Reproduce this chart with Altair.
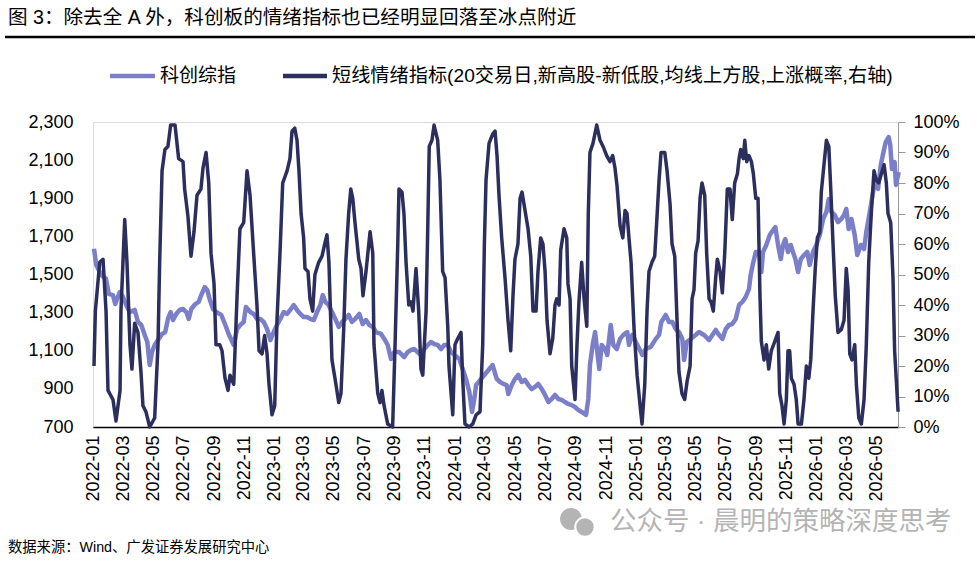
import altair as alt
import pandas as pd

# ---------------- data (months since 2022-01-01, values) ----------------
idx_month = [0.00, 0.15, 0.48, 0.80, 0.98, 1.26, 1.41, 1.71, 1.93, 2.14, 2.37, 2.70, 2.92, 3.14, 3.37, 3.54, 3.70, 3.85,
             4.03, 4.25, 4.52, 4.73, 4.91, 5.09, 5.25, 5.46, 5.69, 5.91, 6.13, 6.29, 6.46, 6.73, 6.95, 7.12, 7.35, 7.52,
             7.68, 7.90, 8.12, 8.45, 8.72, 8.94, 9.28, 9.50, 9.71, 9.94, 10.09, 10.38, 10.60, 10.82, 11.04, 11.27, 11.49,
             11.71, 11.93, 12.15, 12.37, 12.60, 12.82, 13.03, 13.26, 13.48, 13.70, 13.92, 14.14, 14.36, 14.59, 14.81,
             15.03, 15.19, 15.36, 15.58, 15.80, 16.02, 16.25, 16.47, 16.69, 16.91, 17.13, 17.35, 17.62, 17.84, 18.06,
             18.28, 18.51, 18.73, 19.06, 19.28, 19.50, 19.72, 19.94, 20.27, 20.60, 20.83, 21.05, 21.27, 21.49, 21.71,
             21.93, 22.16, 22.38, 22.60, 22.82, 23.04, 23.26, 23.49, 23.71, 23.92, 24.26, 24.48, 24.70, 24.92, 25.10,
             25.25, 25.37, 25.70, 25.92, 26.25, 26.47, 26.74, 26.96, 27.18, 27.40, 27.51, 27.74, 27.95, 28.17, 28.40,
             28.62, 28.84, 29.06, 29.28, 29.50, 29.73, 29.95, 30.17, 30.39, 30.61, 30.83, 31.06, 31.27, 31.49, 31.72,
             31.94, 32.16, 32.38, 32.67, 32.82, 32.93, 33.11, 33.27, 33.42, 33.55, 33.71, 33.93, 34.08, 34.31, 34.48,
             34.71, 34.93, 35.15, 35.41, 35.52, 35.74, 36.08, 36.41, 36.63, 36.97, 37.30, 37.52, 37.67, 37.96, 38.18,
             38.40, 38.62, 38.84, 39.06, 39.18, 39.36, 39.62, 39.95, 40.17, 40.50, 40.84, 41.06, 41.28, 41.50, 41.72,
             41.95, 42.16, 42.38, 42.61, 42.83, 43.05, 43.27, 43.49, 43.60, 43.78, 43.94, 44.16, 44.31, 44.42, 44.64,
             44.87, 45.09, 45.24, 45.42, 45.60, 45.75, 45.90, 46.08, 46.26, 46.41, 46.57, 46.75, 46.93, 47.14, 47.36,
             47.52, 47.74, 47.96, 48.19, 48.41, 48.63, 48.79, 48.96, 49.18, 49.40, 49.62, 49.80, 49.95, 50.11, 50.29,
             50.51, 50.68, 50.91, 51.13, 51.28, 51.51, 51.73, 51.88, 52.06, 52.24, 52.42, 52.57, 52.76, 52.87, 52.98,
             53.16, 53.25, 53.43]
idx_value = [1635, 1550, 1497, 1477, 1398, 1392, 1345, 1408, 1382, 1340, 1303, 1314, 1251, 1235, 1183, 1146, 1025, 1093,
             1130, 1156, 1188, 1198, 1267, 1303, 1261, 1293, 1314, 1319, 1303, 1267, 1319, 1345, 1356, 1392, 1434, 1419,
             1371, 1319, 1303, 1288, 1235, 1188, 1130, 1214, 1235, 1251, 1330, 1303, 1293, 1267, 1267, 1251, 1214,
             1156, 1198, 1235, 1267, 1303, 1293, 1314, 1340, 1314, 1293, 1277, 1277, 1267, 1261, 1303,
             1340, 1392, 1356, 1340, 1303, 1267, 1225, 1251, 1267, 1288, 1251, 1267, 1293, 1240, 1261,
             1235, 1225, 1198, 1188, 1162, 1130, 1057, 1093, 1093, 1067, 1093, 1104, 1109, 1093, 1078,
             1109, 1130, 1146, 1135, 1130, 1109, 1130, 1130, 1093, 1078, 1057, 1004, 952, 884, 779,
             847, 920, 952, 973, 1004, 1025, 952, 936, 926, 920, 873, 920, 952, 973, 936,
             947, 920, 899, 910, 926, 899, 868, 831, 847, 868, 847, 842, 831, 821, 815,
             805, 789, 779, 763, 847, 1025, 1130, 1198, 1093, 1004, 1130, 1109, 1078, 1235, 1130,
             1109, 1162, 1183, 1198, 1130, 1183, 1130, 1078, 1109, 1120, 1162, 1183, 1251, 1288, 1251,
             1251, 1214, 1198, 1162, 1051, 1146, 1162, 1183, 1198, 1183, 1156, 1183, 1209, 1183, 1162,
             1214, 1235, 1240, 1267, 1340, 1356, 1382, 1424, 1497, 1566, 1618, 1618, 1513, 1618, 1655,
             1707, 1733, 1749, 1655, 1581, 1655, 1686, 1618, 1655, 1618, 1581, 1513, 1581, 1602, 1618,
             1550, 1618, 1655, 1707, 1791, 1828, 1896, 1828, 1812, 1775, 1791, 1812, 1844, 1739, 1791,
             1707, 1602, 1655, 1634, 1723, 1828, 1933, 2001, 1949, 2074, 2143, 2195, 2221, 2179, 2053,
             2090, 1970, 2038]

sent_month = [0.00, 0.09, 0.38, 0.60, 0.80, 0.93, 1.26, 1.46, 1.73, 1.79, 2.04, 2.19, 2.39, 2.52, 2.70, 2.92, 3.12,
              3.25, 3.45, 3.70, 4.03, 4.25, 4.36, 4.52, 4.71, 4.91, 5.09, 5.38, 5.62, 5.91, 6.02, 6.24, 6.44, 6.64,
              6.84, 7.10, 7.24, 7.44, 7.62, 7.77, 7.97, 8.10, 8.35, 8.50, 8.70, 8.90, 9.03, 9.28, 9.50, 9.69, 9.94,
              10.16, 10.36, 10.60, 10.82, 10.96, 11.16, 11.33, 11.49, 11.62, 11.82, 12.00, 12.15, 12.35, 12.53, 12.82,
              13.01, 13.15, 13.33, 13.48, 13.61, 13.75, 13.92, 14.01, 14.21, 14.34, 14.52, 14.67, 14.92, 15.14, 15.32,
              15.47, 15.60, 15.80, 16.00, 16.25, 16.40, 16.58, 16.73, 16.91, 17.05, 17.18, 17.33, 17.58, 17.73, 17.86,
              18.06, 18.33, 18.51, 18.59, 18.84, 18.99, 19.12, 19.26, 19.50, 19.83, 19.99, 20.17, 20.25, 20.45, 20.58,
              20.72, 20.90, 21.05, 21.18, 21.38, 21.56, 21.71, 21.83, 22.05, 22.16, 22.26, 22.44, 22.58, 22.82, 22.97,
              23.15, 23.31, 23.49, 23.57, 23.82, 23.97, 24.15, 24.37, 24.48, 24.63, 24.90, 25.15, 25.37, 25.63, 25.81,
              25.92, 26.03, 26.23, 26.47, 26.63, 26.76, 26.89, 27.07, 27.29, 27.49, 27.67, 27.82, 27.95, 28.15, 28.29,
              28.42, 28.62, 28.82, 29.00, 29.15, 29.35, 29.48, 29.66, 29.81, 29.95, 30.08, 30.28, 30.46, 30.61, 30.72,
              30.88, 30.99, 31.21, 31.39, 31.47, 31.61, 31.72, 31.94, 32.07, 32.20, 32.38, 32.54, 32.72, 32.82, 32.93,
              33.13, 33.38, 33.60, 33.80, 34.04, 34.26, 34.44, 34.59, 34.73, 34.93, 35.11, 35.26, 35.39, 35.52, 35.66,
              35.86, 36.06, 36.30, 36.39, 36.57, 36.72, 36.85, 37.05, 37.23, 37.36, 37.52, 37.65, 37.90, 38.05, 38.25,
              38.38, 38.56, 38.69, 38.84, 39.04, 39.22, 39.38, 39.58, 39.71, 39.84, 39.95, 40.11, 40.24, 40.37, 40.55,
              40.68, 40.84, 40.97, 41.12, 41.28, 41.39, 41.57, 41.72, 41.88, 42.05, 42.23, 42.38, 42.54, 42.72, 42.83,
              42.94, 43.11, 43.21, 43.34, 43.49, 43.65, 43.78, 43.94, 44.09, 44.22, 44.31, 44.49, 44.64, 44.80, 44.97,
              45.20, 45.42, 45.53, 45.68, 45.82, 45.97, 46.08, 46.19, 46.30, 46.48, 46.63, 46.75, 46.97, 47.14, 47.30,
              47.46, 47.59, 47.74, 47.89, 48.03, 48.19, 48.29, 48.47, 48.63, 48.79, 48.92, 49.07, 49.22, 49.40, 49.62,
              49.80, 49.95, 50.07, 50.18, 50.33, 50.51, 50.62, 50.78, 50.95, 51.13, 51.28, 51.44, 51.61, 51.79, 51.94,
              52.10, 52.28, 52.46, 52.61, 52.72, 52.90, 53.05, 53.16, 53.39]
sent_pct = [20, 38, 54, 55, 38, 12, 9, 2, 12, 38, 68, 54, 27, 19, 34, 31, 18,
            7, 5, 0, 3, 27, 54, 84, 91, 92, 99, 99, 88, 87, 78, 69, 56, 64,
            76, 78, 85, 90, 80, 57, 47, 27, 27, 25, 16, 12, 17, 14, 43, 65, 67,
            84, 76, 57, 40, 25, 24, 30, 24, 14, 4, 7, 35, 57, 80, 84,
            88, 97, 98, 94, 84, 70, 62, 52, 51, 42, 38, 50, 54, 56, 60,
            63, 54, 22, 16, 8, 11, 32, 55, 70, 78, 75, 67, 55, 52, 43,
            51, 64, 57, 27, 11, 8, 12, 7, 1, 0, 27, 60, 78, 77, 70,
            54, 40, 41, 38, 52, 38, 19, 17, 38, 65, 92, 94, 99, 94, 81,
            51, 49, 33, 20, 4, 27, 29, 31, 16, 1, 0, 1, 4, 5, 27,
            60, 81, 93, 96, 97, 89, 76, 62, 49, 35, 25, 43, 55, 60, 75,
            77, 71, 65, 56, 38, 38, 51, 62, 60, 51, 35, 24, 29, 40, 42,
            40, 58, 65, 62, 47, 42, 20, 9, 27, 41, 54, 42, 33, 70, 90,
            93, 99, 94, 92, 89, 87, 89, 85, 79, 66, 62, 71, 70, 62, 54,
            32, 17, 5, 1, 14, 38, 51, 54, 56, 67, 81, 90, 90, 84, 73,
            60, 56, 38, 18, 11, 9, 15, 20, 42, 45, 57, 61, 75, 80, 76,
            57, 42, 41, 38, 49, 55, 51, 44, 57, 78, 78, 68, 80, 83, 88,
            91, 88, 94, 87, 89, 87, 83, 75, 75, 43, 28, 22, 27, 19, 25,
            28, 31, 11, 7, 1, 9, 25, 25, 16, 14, 9, 1, 1, 9, 20,
            16, 22, 38, 52, 62, 64, 77, 86, 94, 92, 78, 60, 43, 31, 32,
            35, 52, 45, 24, 22, 27, 14, 3, 1, 9, 27, 54, 70, 84, 81,
            80, 83, 86, 80, 70, 67, 49, 25, 5]

tick_months = [(y, m) for y in range(2022, 2027) for m in range(1, 13, 2) if (y, m) <= (2026, 5)]
left_ticks = list(range(700, 2301, 200))
right_ticks = list(range(0, 101, 10))

SERIES_A = "科创综指"
SERIES_B = "短线情绪指标(20交易日,新高股-新低股,均线上方股,上涨概率,右轴)"
TITLE = "图 3：除去全 A 外，科创板的情绪指标也已经明显回落至冰点附近"
SOURCE = "数据来源：Wind、广发证券发展研究中心"
WATERMARK = "公众号 · 晨明的策略深度思考"

# ---------------- build ----------------
base = pd.Timestamp("2022-01-01")
def to_date(m):
    return (base + pd.Timedelta(days=m * 30.44)).strftime("%Y-%m-%dT%H:%M:%S")

df_idx = pd.DataFrame({"date": [to_date(m) for m in idx_month], "v": idx_value})
df_sent = pd.DataFrame({"date": [to_date(m) for m in sent_month], "p": sent_pct})

LIGHT = "#7B7FC8"
DARK = "#2C2E5E"
FONT = "Liberation Sans, Noto Sans CJK SC"

x_enc = alt.X(
    "date:T",
    scale=alt.Scale(domain=[alt.DateTime(year=2021, month=12, date=30),
                            alt.DateTime(year=2026, month=6, date=14)], nice=False),
    axis=alt.Axis(values=[alt.DateTime(year=y, month=m, date=1) for y, m in tick_months],
                  format="%Y-%m", labelAngle=270, labelPadding=8, ticks=False,
                  domainColor="black", domainWidth=1.5, grid=False, title=None,
                  labelFontSize=18, labelFont=FONT, labelColor="black"),
)

line_idx = alt.Chart(df_idx).mark_line(color=LIGHT, strokeWidth=4.5, strokeJoin="round").encode(
    x=x_enc,
    y=alt.Y("v:Q", scale=alt.Scale(domain=[700, 2300], nice=False, zero=False),
            axis=alt.Axis(values=left_ticks, format=",.0f", domain=False, ticks=False, grid=False,
                          labelFontSize=18, labelPadding=20, title=None, labelFont=FONT,
                          labelColor="black", orient="left")),
)

line_sent = alt.Chart(df_sent).mark_line(color=DARK, strokeWidth=3.5, strokeJoin="round").encode(
    x=x_enc,
    y=alt.Y("p:Q", scale=alt.Scale(domain=[0, 100], nice=False),
            axis=alt.Axis(values=right_ticks, labelExpr="datum.value + '%'", orient="right",
                          domainColor="#999999", tickColor="#999999", tickSize=7, grid=False,
                          labelPadding=8, labelFontSize=18, title=None, labelFont=FONT,
                          labelColor="black")),
)

one = pd.DataFrame({"k": [0]})

def text_layer(txt, x, y, size, color="black", align="left"):
    return alt.Chart(pd.DataFrame({"t": [txt]})).mark_text(
        align=align, baseline="middle", fontSize=size, font=FONT, color=color
    ).encode(x=alt.value(x), y=alt.value(y), text="t:N")

title = text_layer(TITLE, -85, -104, 19.6)
title_rule = alt.Chart(one).mark_rule(color="black", strokeWidth=2.5).encode(
    x=alt.value(-88), x2=alt.value(882), y=alt.value(-85))

leg_a_sw = alt.Chart(one).mark_rule(color=LIGHT, strokeWidth=4.5).encode(
    x=alt.value(17), x2=alt.value(62), y=alt.value(-46))
leg_a_tx = text_layer(SERIES_A, 67, -46, 19)
leg_b_sw = alt.Chart(one).mark_rule(color=DARK, strokeWidth=4.5).encode(
    x=alt.value(190), x2=alt.value(234), y=alt.value(-46))
leg_b_tx = text_layer(SERIES_B, 239, -46, 19.2)

source = text_layer(SOURCE, -85, 426, 14.3)
wm = text_layer(WATERMARK, 517, 400, 26.5, color="#b4b4b4")
icon1 = alt.Chart(one).mark_circle(color="#b4b4b4", opacity=1).encode(
    x=alt.value(478), y=alt.value(397), size=alt.value(480))
icon2 = alt.Chart(one).mark_circle(color="#b4b4b4", opacity=1, stroke="white", strokeWidth=2).encode(
    x=alt.value(492), y=alt.value(405), size=alt.value(380))

chart = alt.layer(
    line_idx, line_sent, title, title_rule, leg_a_sw, leg_a_tx, leg_b_sw, leg_b_tx,
    source, wm, icon1, icon2
).resolve_scale(y="independent").properties(
    width=805, height=305,
    autosize=alt.AutoSizeParams(type="none"),
    padding={"left": 93, "top": 122, "right": 82, "bottom": 135},
).configure_view(stroke=None).configure(background="white")

chart.save("out.html", embed_options={"renderer": "svg", "actions": False})
